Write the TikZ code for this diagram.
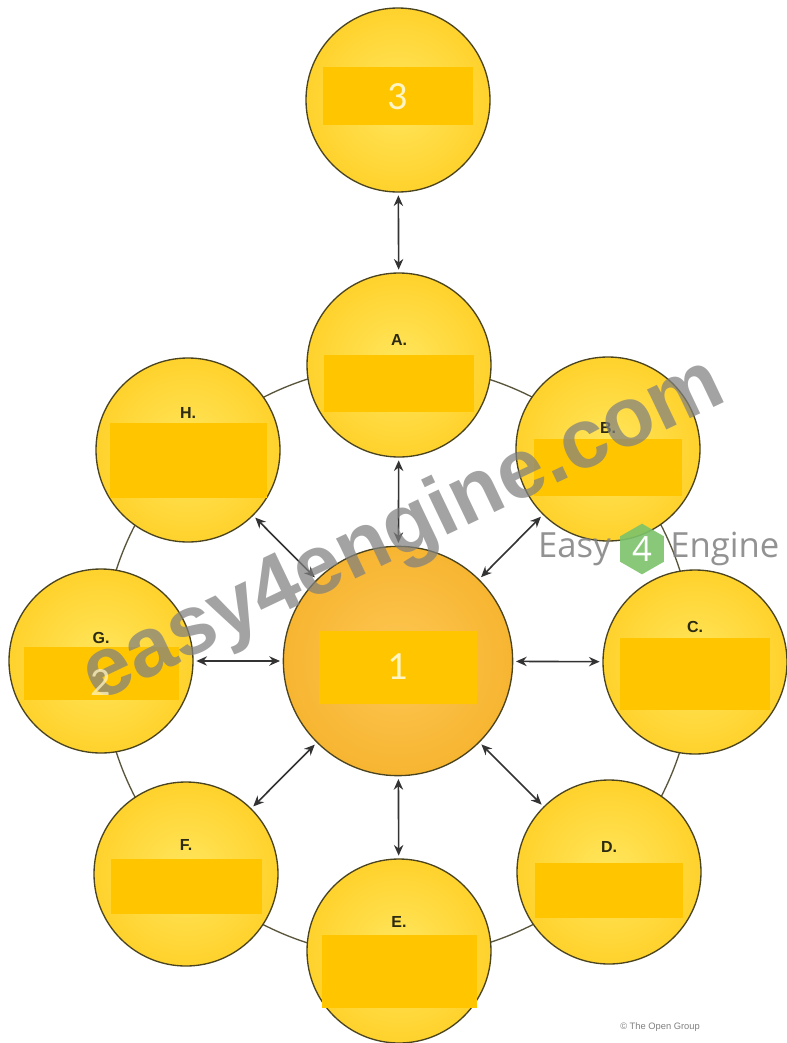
\documentclass[tikz,border=0pt]{standalone}
\usepackage{fontspec}
\setmainfont{Liberation Sans}
\newfontfamily\numfont{Carlito}
\newfontfamily\logofont{Open Sans}
\usetikzlibrary{arrows.meta,shapes.geometric}
\definecolor{edgec}{HTML}{4A4420}
\definecolor{ylin}{HTML}{FFE65E}
\definecolor{ylout}{HTML}{FFD22C}
\definecolor{orin}{HTML}{FDC753}
\definecolor{orout}{HTML}{F7B531}
\definecolor{bandc}{HTML}{FFC600}
\definecolor{numc}{HTML}{FFF4C4}
\definecolor{lblc}{HTML}{2B2A12}
\definecolor{arrc}{HTML}{333333}
\definecolor{wmc}{HTML}{808080}
\definecolor{hexc}{HTML}{7CC36A}
\tikzset{
  outer/.style={circle, draw=edgec, line width=1pt, inner color=ylin, outer color=ylout, minimum size=138pt, inner sep=0pt},
  center/.style={circle, draw=edgec, line width=1pt, inner color=orin, outer color=orout, minimum size=172pt, inner sep=0pt},
  band/.style={rectangle, fill=bandc, inner sep=0pt, minimum width=#1*0.75pt},
  band/.default=152,
  lbl/.style={font=\bfseries\fontsize{12}{14}\selectfont, text=lblc, inner sep=0pt},
  num/.style={font=\numfont\fontsize{30}{32}\selectfont, text=numc, inner sep=0pt},
  conn/.style={draw=arrc, line width=1.2pt, {Stealth[length=8pt,width=7pt]}-{Stealth[length=8pt,width=7pt]}, shorten <=2pt, shorten >=2pt},
  ringc/.style={draw=edgec!70!gray, line width=1pt}
}
% #1 name, #2 x, #3 y, #4 label, #5 label dy, #6 band dy, #7 band height, #8 band width
\newcommand\bub[8]{%
  \node[outer] (#1) at (#2,#3) {};
  \node[band=#8, minimum height=#7*0.75pt] (#1b) at (#2,{#3+#6}) {};
  \node[lbl] (#1l) at (#2,{#3+#5}) {#4};
}
\begin{document}
\begin{tikzpicture}[x=0.75pt,y=-0.75pt]
\fill[white] (0,0) rectangle (786,1043);
\useasboundingbox (0,0) rectangle (786,1043);
\coordinate (ctr) at (398,661);
\draw[ringc] (ctr) circle[radius=222pt];

\node[outer] (n3) at (398,100) {};
\node[band=150, minimum height=58*0.75pt] (n3b) at (398,96) {};
\node[num] (n3t) at (398,97) {3};

\bub{A}{399}{365}{A.}{-25}{18}{57}{150}
\bub{B}{608}{449}{B.}{-21}{18}{57}{148}
\bub{C}{695}{662}{C.}{-35}{12}{72}{150}
\bub{D}{609}{872}{D.}{-25}{18}{55}{148}
\bub{E}{399}{951}{E.}{-29}{20}{73}{155}
\bub{F}{186}{874}{F.}{-29}{12}{55}{151}
\bub{G}{101}{661}{G.}{-23}{12}{53}{155}
\bub{H}{188}{450}{H.}{-37}{10}{75}{157}

\node[center] (n1) at (ctr) {};
\node[band=158, minimum height=73*0.75pt] (n1b) at (398,667) {};
\node[num] (n1t) at (398,667) {1};

\draw[conn] (n3) -- (A);
\foreach \o in {A,B,C,D,E,F,G,H} { \draw[conn] (n1) -- (\o); }

% watermark
\node[font=\bfseries\fontsize{63}{63}\selectfont, text=wmc, opacity=0.72, rotate=25.5, inner sep=0pt] (wm) at (404,532) {easy4engine.com};
\node[num, opacity=0.75] (n2) at (101,683) {2};
\node[font=\logofont\fontsize{26}{28}\selectfont, text=wmc, opacity=0.85, inner sep=0pt, anchor=base east] (wm1) at (611,557) {Easy};
\node[regular polygon, regular polygon sides=6, shape border rotate=30, fill=hexc, opacity=0.9, minimum size=38pt, inner sep=0pt] (hex) at (642,549) {};
\node[font=\logofont\fontsize{26}{28}\selectfont, text=white, inner sep=0pt] (hex4) at (642,549) {4};
\node[font=\logofont\fontsize{26}{28}\selectfont, text=wmc, opacity=0.85, inner sep=0pt, anchor=base west] (wm2) at (670,557) {Engine};

\node[font=\fontsize{7}{8}\selectfont, text=gray, inner sep=0pt, anchor=west] (copy) at (620,1027) {\textcopyright{} The Open Group};
\end{tikzpicture}
\end{document}
